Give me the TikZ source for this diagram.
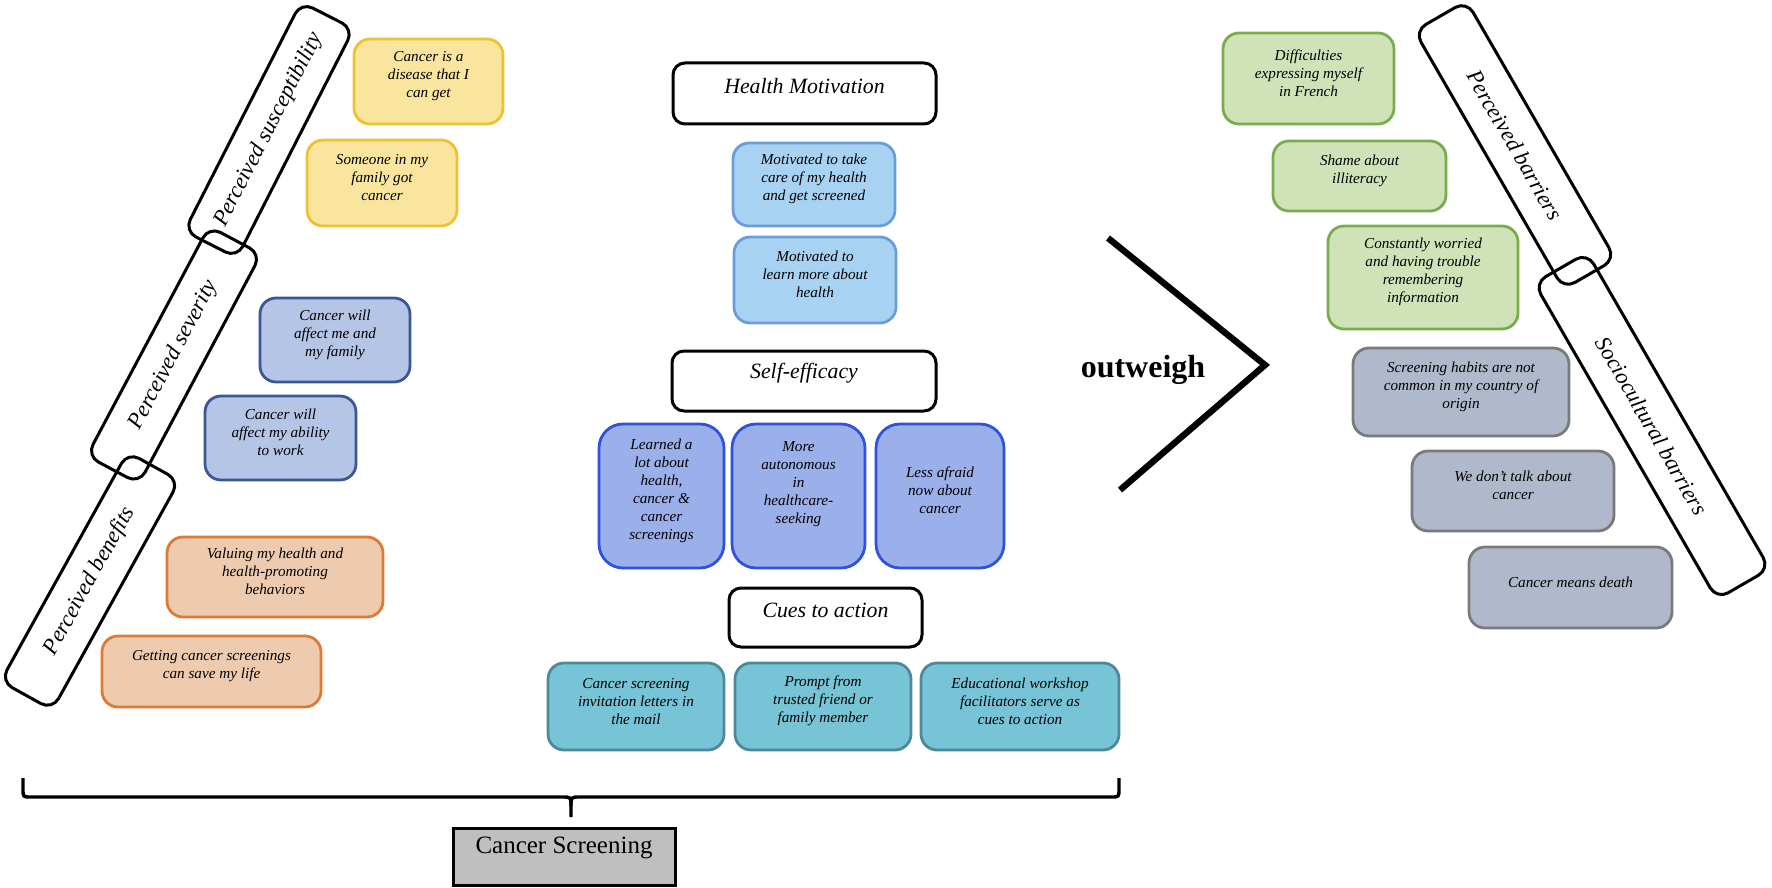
\documentclass[tikz,border=0pt]{standalone}
\usepackage{fontspec}
\setmainfont{Liberation Serif}
\usetikzlibrary{fit}
\definecolor{yelF}{HTML}{F9E59D}
\definecolor{yelD}{HTML}{EDC132}
\definecolor{sevF}{HTML}{B4C5E6}
\definecolor{sevD}{HTML}{3A5896}
\definecolor{oraF}{HTML}{EECBAE}
\definecolor{oraD}{HTML}{DD7A35}
\definecolor{motF}{HTML}{A8D2F2}
\definecolor{motD}{HTML}{6A9CD8}
\definecolor{seF}{HTML}{9BAFEA}
\definecolor{seD}{HTML}{2F52DF}
\definecolor{cueF}{HTML}{76C4D6}
\definecolor{cueD}{HTML}{4C8A9A}
\definecolor{grnF}{HTML}{CFE2B8}
\definecolor{grnD}{HTML}{79AD4C}
\definecolor{gryF}{HTML}{AFB9CB}
\definecolor{gryD}{HTML}{7A7A7A}
\definecolor{csF}{HTML}{BFBFBF}
\tikzset{
  basebox/.style={draw, line width=1.4pt, align=center, inner sep=0pt, rounded corners=8pt,
    font=\itshape\fontsize{7.6}{9}\selectfont},
  ybox/.style={basebox, fill=yelF, draw=yelD},
  sbox/.style={basebox, fill=sevF, draw=sevD},
  obox/.style={basebox, fill=oraF, draw=oraD},
  mbox/.style={basebox, fill=motF, draw=motD},
  ebox/.style={basebox, fill=seF, draw=seD, rounded corners=12pt},
  cbox/.style={basebox, fill=cueF, draw=cueD},
  gbox/.style={basebox, fill=grnF, draw=grnD},
  rbox/.style={basebox, fill=gryF, draw=gryD},
  hdr/.style={draw=black, line width=1.5pt, rounded corners=6pt, inner sep=0pt, align=center,
    font=\itshape\fontsize{10.9}{13}\selectfont},
  barbox/.style={draw=black, line width=1.5pt, rounded corners=6.5pt, inner sep=0pt,
    font=\itshape\fontsize{11.3}{13}\selectfont},
  csbox/.style={draw=black, line width=1.5pt, fill=csF, inner sep=0pt,
    font=\fontsize{12.5}{14}\selectfont},
  bracepath/.style={draw=black, line width=1.7pt},
  chev/.style={draw=black, line width=3.2pt},
}
\begin{document}
\begin{tikzpicture}[x=0.5pt,y=-0.5pt]
\useasboundingbox (0,0) rectangle (1772,888);

% ---- left bars
\node[barbox, minimum width=128.5pt, minimum height=29.5pt, rotate=63] (sus) at (269,130) {Perceived susceptibility};
\node[barbox, minimum width=130pt, minimum height=29.5pt, rotate=62] (sev) at (174,355) {Perceived severity};
\node[barbox, minimum width=131pt, minimum height=29.5pt, rotate=61] (ben) at (90,581) {Perceived benefits};

% ---- left boxes
\node[ybox, fit={(354,39)(503,124)}] (y1) {Cancer is a\\disease that I\\can get};
\node[ybox, fit={(307,140)(457,226)}] (y2) {Someone in my\\family got\\cancer};
\node[sbox, fit={(260,298)(410,382)}] (s1) {Cancer will\\affect me and\\my family};
\node[sbox, fit={(205,396)(356,480)}] (s2) {Cancer will\\affect my ability\\to work};
\node[obox, fit={(167,537)(383,617)}] (o1) {Valuing my health and\\health-promoting\\behaviors};
\node[obox, fit={(102,636)(321,707)}] (o2) {Getting cancer screenings\\can save my life};

% ---- centre column
\node[hdr, fit={(673,63)(936,124)}] (hm) {Health Motivation};
\node[mbox, fit={(733,143)(895,226)}] (m1) {Motivated to take\\care of my health\\and get screened};
\node[mbox, fit={(734,237)(896,323)}] (m2) {Motivated to\\learn more about\\health};
\node[hdr, fit={(672,351)(936,411)}] (se) {Self-efficacy};
\node[ebox, fit={(599,424)(724,568)}] (e1) {Learned a\\lot about\\health,\\cancer \&\\cancer\\screenings};
\node[ebox, fit={(732,424)(865,568)}] (e2) {More\\autonomous\\in\\healthcare-\\seeking\\\mbox{}};
\node[ebox, fit={(876,424)(1004,568)}] (e3) {Less afraid\\now about\\cancer};
\node[hdr, fit={(729,588)(922,647)}] (cu) {Cues to action};
\node[cbox, fit={(548,663)(724,750)}] (c1) {Cancer screening\\invitation letters in\\the mail};
\node[cbox, fit={(735,663)(911,750)}] (c2) {Prompt from\\trusted friend or\\family member};
\node[cbox, fit={(921,663)(1119,750)}] (c3) {Educational workshop\\facilitators serve as\\cues to action};

% ---- brace and Cancer Screening
\coordinate (bl) at (23,778);
\coordinate (bm) at (571,817);
\coordinate (br) at (1119,778);
\draw[bracepath] (bl) -- (23,789) .. controls (23,797) .. (31,797) -- (562,797)
  .. controls (571,797) .. (571,806) -- (bm);
\draw[bracepath] (571,806) .. controls (571,797) .. (580,797) -- (1111,797)
  .. controls (1119,797) .. (1119,789) -- (br);
\node[csbox, fit={(453,828)(675,885)}] (cs) {Cancer Screening};

% ---- outweigh chevron
\coordinate (cv1) at (1108,238);
\coordinate (cv2) at (1265,365);
\coordinate (cv3) at (1120,490);
\draw[chev] (cv1) -- (cv2) -- (cv3);
\node[font=\bfseries\fontsize{16}{18}\selectfont] (ow) at (1143,370) {outweigh};

% ---- right bars
\node[barbox, minimum width=149pt, minimum height=30pt, rotate=-60] (bar) at (1515,145) {Perceived barriers};
\node[barbox, minimum width=182.5pt, minimum height=30.5pt, rotate=-60] (soc) at (1652,426) {Sociocultural barriers};

% ---- right boxes
\node[gbox, fit={(1223,33)(1394,124)}] (g1) {Difficulties\\expressing myself\\in French};
\node[gbox, fit={(1273,141)(1446,211)}] (g2) {Shame about\\illiteracy};
\node[gbox, fit={(1328,226)(1518,329)}] (g3) {Constantly worried\\and having trouble\\remembering\\information};
\node[rbox, fit={(1353,348)(1569,436)}] (r1) {Screening habits are not\\common in my country of\\origin};
\node[rbox, fit={(1412,451)(1614,531)}] (r2) {We don’t talk about\\cancer};
\node[rbox, fit={(1469,547)(1672,628)}] (r3) {Cancer means death};
\end{tikzpicture}
\end{document}
